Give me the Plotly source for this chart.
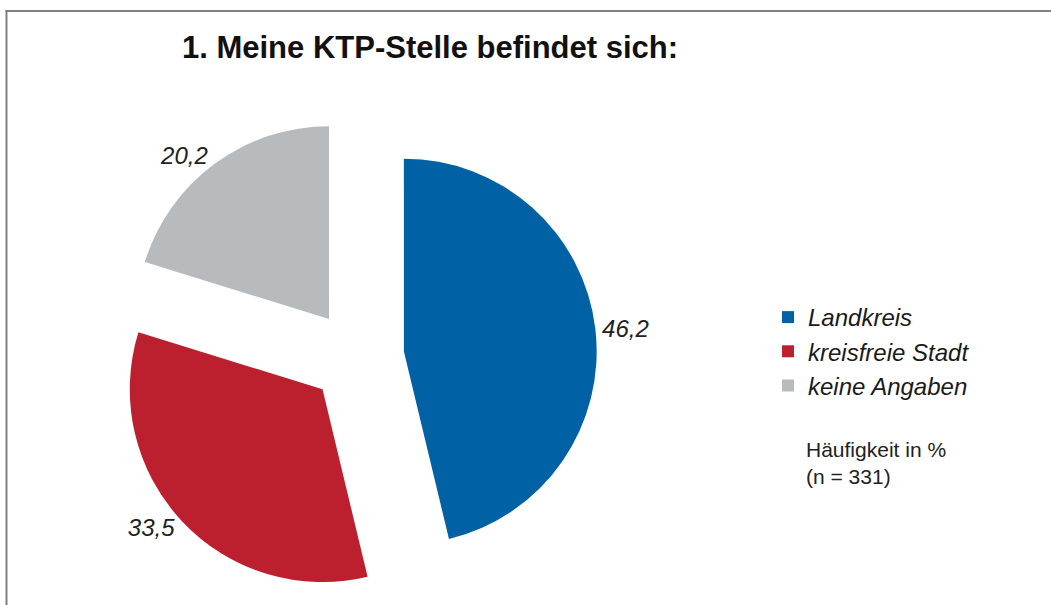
import plotly.graph_objects as go

categories = ["Landkreis", "kreisfreie Stadt", "keine Angaben"]
values = [46.2, 33.5, 20.2]
colors = ["#0061A5", "#BC202F", "#B8BBBD"]
title_text = "1. Meine KTP-Stelle befindet sich:"
note_text = "Häufigkeit in %<br>(n = 331)"

W, H = 1051, 605

def px(x):
    return x / W

def py(y):
    return 1 - y / H

cx, cy, half = 357, 357, 240

fig = go.Figure()
fig.add_trace(go.Pie(
    labels=categories,
    values=values,
    sort=False,
    direction="clockwise",
    rotation=0,
    pull=[0.245, 0.245, 0.245],
    marker=dict(colors=colors, line=dict(width=0)),
    textinfo="value",
    textposition="outside",
    outsidetextfont=dict(family="Liberation Sans, Arial, sans-serif", size=24,
                         color="#222222", style="italic"),
    domain=dict(x=[px(cx - half), px(cx + half)], y=[py(cy + half), py(cy - half)]),
    hoverinfo="none",
    automargin=False,
))

fig.update_layout(
    width=W, height=H,
    margin=dict(l=0, r=0, t=0, b=0),
    paper_bgcolor="white",
    plot_bgcolor="white",
    separators=", ",
    title=dict(text="<b>" + title_text + "</b>", x=px(430), xanchor="center",
               y=py(47), yanchor="middle",
               font=dict(family="Liberation Sans, Arial, sans-serif", size=31, color="#111111")),
    legend=dict(x=px(768), xanchor="left", y=py(295), yanchor="top",
                font=dict(family="Liberation Sans, Arial, sans-serif", size=24,
                          color="#1a1a1a", style="italic"),
                bgcolor="rgba(0,0,0,0)"),
    annotations=[dict(text=note_text, x=px(804), y=py(436), xref="paper", yref="paper",
                      xanchor="left", yanchor="top", align="left", showarrow=False,
                      font=dict(family="Liberation Sans, Arial, sans-serif", size=21,
                                color="#222222"))],
    shapes=[
        dict(type="line", xref="paper", yref="paper", x0=px(6.5), x1=px(6.5),
             y0=0, y1=py(10), line=dict(color="#808080", width=2)),
        dict(type="line", xref="paper", yref="paper", x0=px(5.5), x1=1,
             y0=py(11), y1=py(11), line=dict(color="#808080", width=2)),
    ],
)

fig.write_html(
    "out.html",
    config={"displayModeBar": False},
    post_script="document.body.style.margin='0';document.body.style.overflow='hidden';",
)
